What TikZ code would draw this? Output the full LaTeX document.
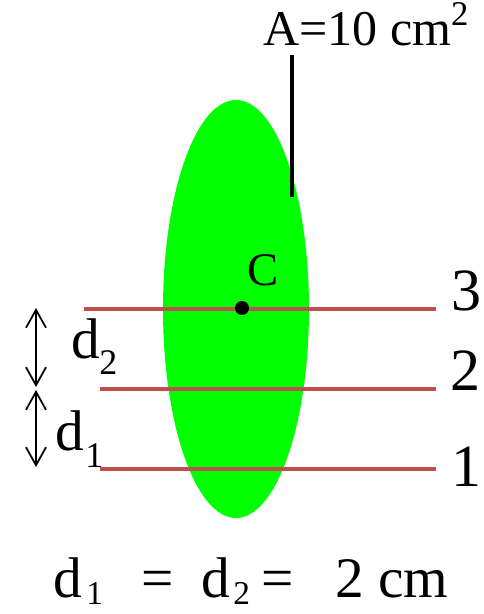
\documentclass[tikz,border=0pt]{standalone}
\usepackage{fontspec}
\setmainfont{Liberation Serif}
\usetikzlibrary{arrows.meta}
\definecolor{redline}{RGB}{192,80,77}
\definecolor{leafgreen}{RGB}{0,255,0}
\newcommand{\fsz}[1]{\fontsize{#1}{#1}\selectfont}
\begin{document}
\begin{tikzpicture}[x=0.75pt,y=-0.75pt,
  axisline/.style={draw=redline,line width=2.3pt},
  dimarrow/.style={draw=black,line width=1.3pt,{Straight Barb[length=13.5pt,width=15pt]}-{Straight Barb[length=13.5pt,width=15pt]}},
  lbl/.style={inner sep=0pt,anchor=base west},
  big/.style={lbl,font=\fsz{43}},
  small/.style={lbl,font=\fsz{27}}]
\useasboundingbox (0,0) rectangle (484,614);
% area
\fill[leafgreen] (236,309) ellipse [x radius=73, y radius=209];
\node[inner sep=0pt] (area) at (236,309) {};
% leader to A label
\coordinate (ltop) at (292,55);
\coordinate (lbot) at (292,197);
\draw[line width=2.3pt] (ltop) -- (lbot);
\node[lbl] (alabel) at (263,45) {\fsz{37.5}A=10 cm\raisebox{0.38em}{\fsz{26}2}};
% lines
\coordinate (l3a) at (84,309); \coordinate (l3b) at (436,309);
\coordinate (l2a) at (100,389); \coordinate (l2b) at (436,389);
\coordinate (l1a) at (100,469); \coordinate (l1b) at (436,469);
\draw[axisline] (l3a) -- (l3b);
\draw[axisline] (l2a) -- (l2b);
\draw[axisline] (l1a) -- (l1b);
\node[lbl] (n3) at (451,310) {\fsz{45}3};
\node[lbl] (n2) at (450,390) {\fsz{45}2};
\node[lbl] (n1) at (451,486) {\fsz{45}1};
% centroid
\node[circle,fill=black,inner sep=0pt,minimum size=10.5pt] (c) at (242,308) {};
\node[lbl] (clabel) at (247,285) {\fsz{35}C};
% dimension arrows
\coordinate (a3) at (36,308);
\coordinate (a2u) at (36,387);
\coordinate (a2d) at (36,390);
\coordinate (a1) at (36,467);
\draw[dimarrow] (a3) -- (a2u);
\draw[dimarrow] (a2d) -- (a1);
\node[big] (d2) at (71,358) {d};
\node[small] (d2s) at (99,374) {2};
\node[big] (d1) at (55,450) {d};
\node[small] (d1s) at (85,467) {1};
% bottom formula
\node[big] (fd1) at (53,597) {d};
\node[small,font=\fsz{25}] (fd1s) at (86,604) {1};
\node[big] (feq1) at (141,597) {=};
\node[big] (fd2) at (201,597) {d};
\node[small,font=\fsz{25}] (fd2s) at (233,604) {2};
\node[big] (feq2) at (261,597) {=};
\node[big] (fval) at (335,597) {2 cm};
\end{tikzpicture}
\end{document}
